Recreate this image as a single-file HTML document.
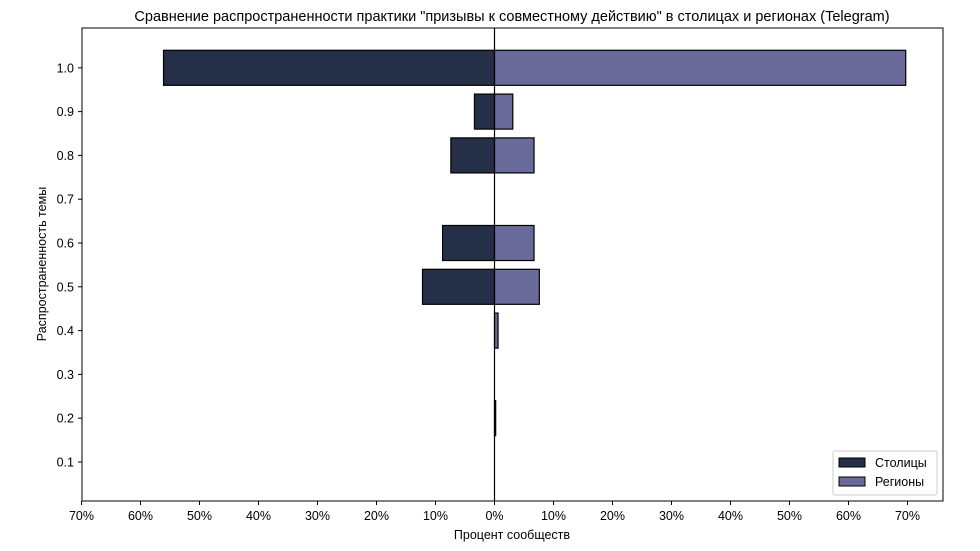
<!DOCTYPE html>
<html><head><meta charset="utf-8"><style>
body{margin:0;background:#fff;}
svg{display:block;font-family:"Liberation Sans","DejaVu Sans",sans-serif;}
</style></head><body>
<svg id="chart" width="980" height="551" viewBox="0 0 980 551">
<text x="512" y="21" text-anchor="middle" font-size="14.5" fill="#000">Сравнение распространенности практики "призывы к совместному действию" в столицах и регионах (Telegram)</text>
<g id="plot"></g>
<text x="512" y="539" text-anchor="middle" font-size="12.5">Процент сообществ</text>
<text transform="translate(46,264) rotate(-90)" text-anchor="middle" font-size="12.5">Распространенность темы</text>
<g>
<rect x="833" y="451" width="104" height="44" fill="#fff" stroke="#ccc" rx="2"/>
<rect x="839" y="458" width="26" height="9" fill="#252f48" stroke="#000"/>
<text x="875" y="467" font-size="12.5">Столицы</text>
<rect x="839" y="477" width="26" height="9" fill="#6b6b9b" stroke="#000"/>
<text x="875" y="486" font-size="12.5">Регионы</text>
</g>
</svg>
<script>
const categories = [0.1,0.2,0.3,0.4,0.5,0.6,0.7,0.8,0.9,1.0];
const capitals = [0,0,0,0,12.2,8.8,0,7.4,3.4,56.1];
const regions = [0,0.2,0,0.6,7.6,6.7,0,6.7,3.1,69.7];
const xTicks = [-70,-60,-50,-40,-30,-20,-10,0,10,20,30,40,50,60,70];
const yTicks = [0.1,0.2,0.3,0.4,0.5,0.6,0.7,0.8,0.9,1.0];
const L=82,R=943,T=28,B=501;
const x0=494.5, k=5.9;
const xs=v=>x0+v*k;
const ys=v=>462-(v-0.1)/0.1*43.8;
const NS="http://www.w3.org/2000/svg";
const g=document.getElementById('plot');
function mk(tag,a){const e=document.createElementNS(NS,tag);for(const n in a)e.setAttribute(n,a[n]);g.appendChild(e);return e;}
const bh=0.08/0.1*43.8;
categories.forEach((c,i)=>{
 if(capitals[i]>0){const r=mk('rect',{x:xs(-capitals[i]),y:ys(c)-bh/2,width:capitals[i]*k,height:bh,fill:'#252f48',stroke:'#000','stroke-width':1.2});
 
 }
 if(regions[i]>0){const r=mk('rect',{x:xs(0),y:ys(c)-bh/2,width:regions[i]*k,height:bh,fill:'#6b6b9b',stroke:'#000','stroke-width':1.2});
 
 }
});
const zl=mk('line',{x1:x0,x2:x0,y1:T,y2:B,stroke:'#000','stroke-width':1.2});


const fr=mk('rect',{x:L,y:T,width:R-L,height:B-T,fill:'none',stroke:'#000','stroke-width':1});


xTicks.forEach(v=>{
 mk('line',{x1:xs(v),x2:xs(v),y1:B,y2:B+4,stroke:'#000'});
 const t=mk('text',{x:xs(v),y:B+19,'text-anchor':'middle','font-size':12.5});
 t.textContent=Math.abs(v)+'%';
 
 
});
yTicks.forEach(v=>{
 mk('line',{x1:L-4,x2:L,y1:ys(v),y2:ys(v),stroke:'#000'});
 const t=mk('text',{x:L-8,y:ys(v)+4.5,'text-anchor':'end','font-size':12.5});
 t.textContent=v.toFixed(1);
 
 
});
</script>
</body></html>
